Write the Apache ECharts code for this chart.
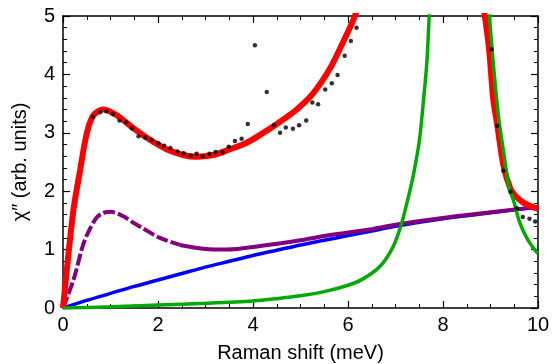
<!DOCTYPE html>
<html>
<head>
<meta charset="utf-8">
<script src="https://cdn.jsdelivr.net/npm/echarts@6/dist/echarts.min.js"></script>
<style>
  html, body { margin: 0; padding: 0; background: #fff; }
  #main { width: 554px; height: 364px; }
</style>
</head>
<body>
<div id="main"></div>
<script>
// measured points (Raman shift meV, chi'')
var dataX = [0.63, 0.78, 0.91, 1.05, 1.19, 1.33, 1.45, 1.59, 1.73, 1.86, 2.01, 2.13, 2.26, 2.41, 2.54, 2.69, 2.81, 2.94,
  3.08, 3.21, 3.36, 3.49, 3.62, 3.76, 3.89, 4.04, 4.29, 4.44, 4.57, 4.69, 4.84, 4.97, 5.12, 5.25, 5.37, 5.52,
  5.66, 5.78, 5.93, 6.06, 6.18, 9.02, 9.14, 9.27, 9.42, 9.55, 9.68, 9.82, 9.94];
var dataY = [3.27, 3.35, 3.37, 3.32, 3.21, 3.18, 3.08, 2.94, 2.92, 2.88, 2.82, 2.78, 2.74, 2.68, 2.65, 2.61, 2.64, 2.60,
  2.64, 2.67, 2.67, 2.76, 2.86, 2.90, 3.15, 4.50, 3.70, 3.13, 3.00, 3.09, 3.07, 3.13, 3.21, 3.52, 3.49, 3.74,
  3.85, 3.99, 4.32, 4.57, 4.80, 4.43, 3.12, 2.35, 1.99, 1.71, 1.56, 1.53, 1.48];

// total fit (red)
var redX = [0, 0.08, 0.22, 0.36, 0.5, 0.64, 0.85, 1.13, 1.48, 1.83, 2.18, 2.53, 2.81, 3.16, 3.52, 3.87, 4.22, 4.57,
  4.92, 5.27, 5.62, 5.9, 6.11, 6.3, 6.5, 8.7, 8.88, 8.97, 9.06, 9.14, 9.27, 9.42, 9.55, 9.7, 9.85, 10];
var redY = [0, 0.65, 1.68, 2.36, 2.99, 3.30, 3.40, 3.30, 3.08, 2.88, 2.72, 2.62, 2.59, 2.62, 2.72, 2.83, 3.00, 3.19,
  3.40, 3.68, 4.10, 4.56, 4.93, 5.35, 5.9, 5.9, 5.0, 4.43, 3.56, 3.15, 2.45, 2.04, 1.90, 1.80, 1.74, 1.70];

// mode (green)
var greenX = [0, 1, 2, 3, 4, 4.5, 5, 5.5, 6, 6.3, 6.67, 6.95, 7.13, 7.27, 7.37, 7.5, 7.59, 7.66, 7.71, 7.8,
  8.9, 8.98, 9.08, 9.18, 9.28, 9.38, 9.5, 9.6, 9.7, 9.8, 9.9, 10];
var greenY = [0, 0.02, 0.05, 0.08, 0.12, 0.16, 0.21, 0.28, 0.39, 0.49, 0.71, 1.05, 1.45, 1.90, 2.25, 2.85, 3.56, 4.2, 5.0, 6.3,
  6.3, 5.0, 4.0, 3.2, 2.65, 2.1, 1.8, 1.5, 1.3, 1.15, 1.03, 0.93];

// background (blue)
var blueX = [0, 0.5, 1, 1.5, 2, 2.5, 3, 3.5, 4, 4.5, 5, 5.5, 6, 6.5, 7, 7.5, 8, 8.5, 9, 9.5, 10];
var blueY = [0, 0.13, 0.25, 0.37, 0.48, 0.59, 0.70, 0.80, 0.90, 0.99, 1.08, 1.16, 1.24, 1.32, 1.40, 1.47, 1.53, 1.58, 1.63, 1.68, 1.73];

// relaxation + background (purple)
var purpleX = [0, 0.22, 0.43, 0.57, 0.71, 0.85, 1.0, 1.27, 1.5, 1.69, 2.04, 2.46, 3.0, 3.45, 4.15, 5.0, 5.62, 6.5, 7.09, 8.15, 9, 10];
var purpleY = [0, 0.48, 1.10, 1.36, 1.55, 1.63, 1.65, 1.57, 1.45, 1.36, 1.20, 1.08, 1.01, 1.00, 1.06, 1.16, 1.25, 1.35, 1.44, 1.56, 1.64, 1.73];
var purpleDashEnd = 11; // index where dashed part stops

var xTicks = [0, 2, 4, 6, 8, 10];
var yTicks = [0, 1, 2, 3, 4, 5];

function pairs(xs, ys) {
  var out = [];
  for (var i = 0; i < xs.length; i++) out.push([xs[i], ys[i]]);
  return out;
}

var myChart = echarts.init(document.getElementById('main'));
var font = 'Liberation Sans, Arial, Helvetica, sans-serif';

var tickStyle = { show: true, inside: true, length: 7, lineStyle: { color: '#000', width: 1.2 } };
var axisLine = { show: true, onZero: false, lineStyle: { color: '#000', width: 1.5 } };

var option = {
  animation: false,
  backgroundColor: '#fff',
  grid: { left: 63, right: 16, top: 16, bottom: 56, containLabel: false, outerBoundsMode: 'none' },
  xAxis: [{
    type: 'value', min: xTicks[0], max: xTicks[xTicks.length - 1], interval: 2,
    name: 'Raman shift (meV)', nameLocation: 'middle', nameGap: 35,
    nameTextStyle: { fontSize: 20, color: '#000', fontFamily: font },
    axisLine: axisLine, axisTick: tickStyle,
    minorTick: { show: true, splitNumber: 4, length: 4, lineStyle: { color: '#000', width: 1 } },
    axisLabel: { fontSize: 20, color: '#000', fontFamily: font, margin: 7 },
    splitLine: { show: false }
  }, {
    type: 'value', position: 'top', min: 0, max: 10, interval: 2,
    axisLine: axisLine, axisTick: tickStyle,
    minorTick: { show: true, splitNumber: 4, length: 4, lineStyle: { color: '#000', width: 1 } },
    axisLabel: { show: false }, splitLine: { show: false }
  }],
  yAxis: [{
    type: 'value', min: yTicks[0], max: yTicks[yTicks.length - 1], interval: 1,
    name: 'χ\u2033 (arb. units)', nameLocation: 'middle', nameGap: 33, nameRotate: 90,
    nameTextStyle: { fontSize: 20, color: '#000', fontFamily: font },
    axisLine: axisLine, axisTick: tickStyle,
    minorTick: { show: true, splitNumber: 5, length: 4, lineStyle: { color: '#000', width: 1 } },
    axisLabel: { fontSize: 20, color: '#000', fontFamily: font, margin: 8 },
    splitLine: { show: false }
  }, {
    type: 'value', position: 'right', min: 0, max: 5, interval: 1,
    axisLine: axisLine, axisTick: tickStyle,
    minorTick: { show: true, splitNumber: 5, length: 4, lineStyle: { color: '#000', width: 1 } },
    axisLabel: { show: false }, splitLine: { show: false }
  }],
  series: [
    {
      name: 'background', type: 'line', smooth: 0.3, showSymbol: false, clip: true, z: 2,
      lineStyle: { color: '#0000ff', width: 3.5 },
      data: pairs(blueX, blueY)
    },
    {
      name: 'relax-a', type: 'line', smooth: 0.3, showSymbol: false, clip: true, z: 3,
      lineStyle: { color: '#800080', width: 4, type: [12, 3] },
      data: pairs(purpleX.slice(0, purpleDashEnd + 1), purpleY.slice(0, purpleDashEnd + 1))
    },
    {
      name: 'relax-b', type: 'line', smooth: 0.3, showSymbol: false, clip: true, z: 3,
      lineStyle: { color: '#800080', width: 4 },
      data: pairs(purpleX.slice(purpleDashEnd), purpleY.slice(purpleDashEnd))
    },
    {
      name: 'fit', type: 'line', smooth: 0.3, showSymbol: false, clip: true, z: 4,
      lineStyle: { color: '#ff0000', width: 6 },
      data: pairs(redX, redY)
    },
    {
      name: 'mode', type: 'line', smooth: 0.3, showSymbol: false, clip: true, z: 5,
      lineStyle: { color: '#00aa00', width: 3.5 },
      data: pairs(greenX, greenY)
    },
    {
      name: 'data', type: 'scatter', symbolSize: 4.5, clip: true, z: 10,
      itemStyle: { color: '#000' },
      data: pairs(dataX, dataY)
    }
  ]
};
myChart.clear();
myChart.setOption(option);
</script>
</body>
</html>
